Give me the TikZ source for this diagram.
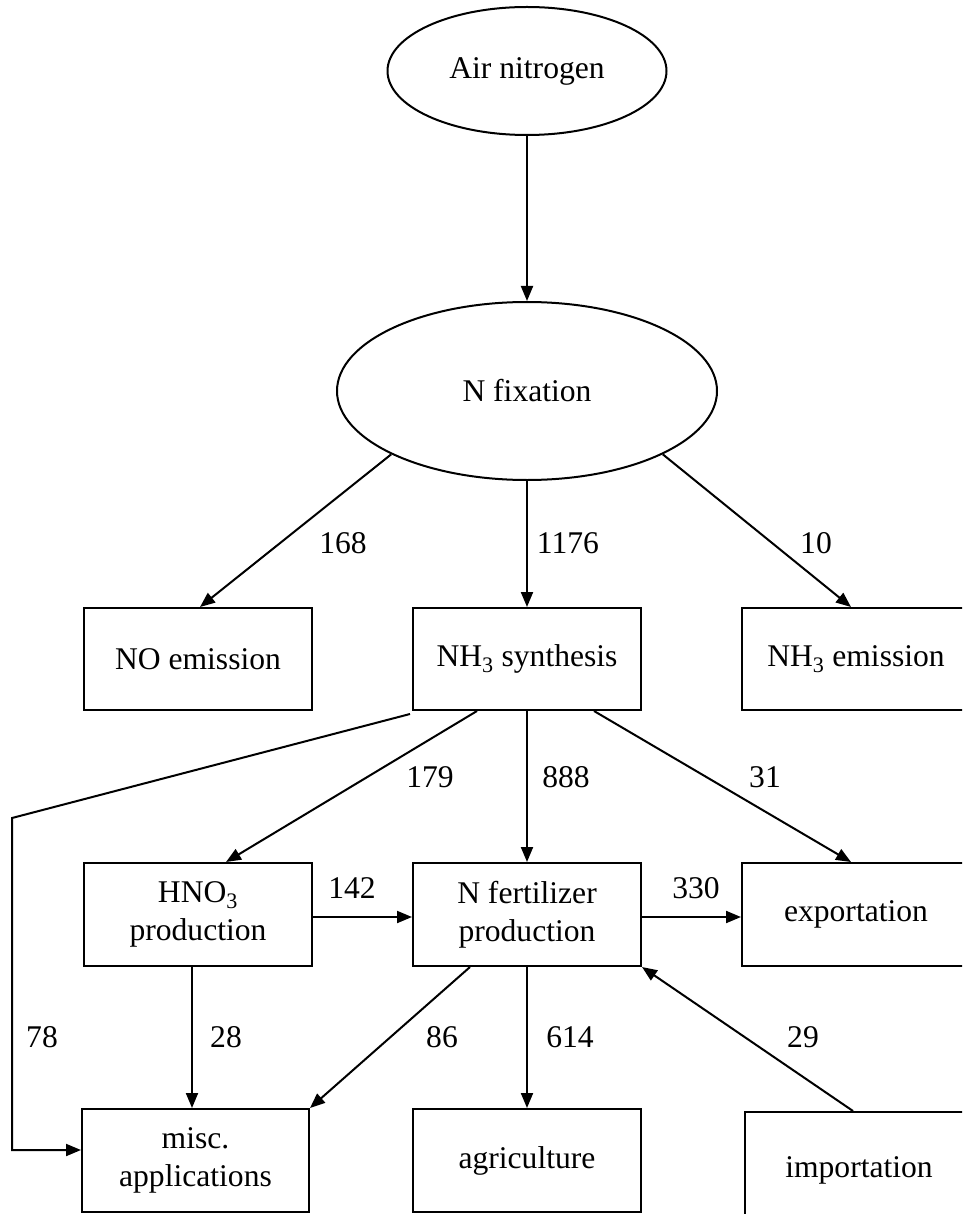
\documentclass[tikz,border=0pt]{standalone}
\usepackage{fontspec}
\setmainfont{Liberation Serif}
\usetikzlibrary{arrows.meta,shapes.geometric}
\begin{document}
\begin{tikzpicture}[x=1pt,y=-1pt,
  every node/.style={font=\fontsize{31.6}{37.5}\selectfont},
  ell/.style={draw,ellipse,line width=2pt,inner sep=0pt},
  box/.style={draw,rectangle,line width=2pt,minimum width=228pt,minimum height=102pt,inner sep=0pt,align=center},
  arr/.style={line width=2pt,-{Triangle[length=15pt,width=12pt]}},
  lbl/.style={inner sep=0pt}]
\path[use as bounding box] (0,0) rectangle (962,1214);
\clip (0,0) rectangle (962,1214);
% nodes
\node[ell,minimum width=279pt,minimum height=128pt] (air) at (527,71) {Air nitrogen};
\node[ell,minimum width=380pt,minimum height=178pt] (fix) at (527,391) {N fixation};
\node[box] (noem) at (198,659) {NO emission};
\node[box] (nh3s) at (527,659) {NH\textsubscript{3} synthesis};
\node[box] (nh3e) at (856,659) {NH\textsubscript{3} emission};
\node[box,minimum height=103pt] (hno3) at (198,914.5) {HNO\textsubscript{3}\\production};
\node[box,minimum height=103pt] (nfert) at (527,914.5) {N fertilizer\\production};
\node[box,minimum height=103pt] (expo) at (856,914.5) {exportation};
\node[box,minimum height=103pt,minimum width=227pt] (misc) at (195.5,1160.5) {misc.\\applications};
\node[box,minimum height=103pt] (agri) at (527,1160.5) {agriculture};
\node[box,minimum height=116pt] (impo) at (859,1170) {importation};
% connectors
\draw[arr] (air.south) -- (fix.north);
\draw[arr] (fix.205.5) -- ([xshift=2pt]noem.north);
\draw[arr] (fix.south) -- (nh3s.north);
\draw[arr] (fix.-25.5) -- ([xshift=-5pt]nh3e.north);
\draw[arr] ([xshift=-50pt]nh3s.south) -- ([xshift=28pt]hno3.north);
\draw[arr] (nh3s.south) -- (nfert.north);
\draw[arr] ([xshift=67pt]nh3s.south) -- ([xshift=-5pt]expo.north);
\coordinate (c1) at (12,818);
\coordinate (c2) at (12,1150);
\draw[arr] ([xshift=-2pt,yshift=-3pt]nh3s.south west) -- (c1) -- (c2) -- (c2 -| misc.west);
\draw[arr] ([yshift=-2.5pt]hno3.east) -- ([yshift=-2.5pt]nfert.west);
\draw[arr] ([yshift=-2.5pt]nfert.east) -- ([yshift=-2.5pt]expo.west);
\draw[arr] ([xshift=-6pt]hno3.south) -- ([xshift=-3.5pt]misc.north);
\draw[arr] ([xshift=-57pt]nfert.south) -- (misc.north east);
\draw[arr] (nfert.south) -- (agri.north);
\draw[arr] ([xshift=-6pt]impo.north) -- (nfert.south east);
% labels
\node[lbl] (l168) at (343,543) {168};
\node[lbl] (l1176) at (568,543) {1176};
\node[lbl] (l10) at (816,543) {10};
\node[lbl] (l179) at (430,777) {179};
\node[lbl] (l888) at (566,777) {888};
\node[lbl] (l31) at (765,777) {31};
\node[lbl] (l142) at (352,888) {142};
\node[lbl] (l330) at (696,888) {330};
\node[lbl] (l78) at (42,1037) {78};
\node[lbl] (l28) at (226,1037) {28};
\node[lbl] (l86) at (442,1037) {86};
\node[lbl] (l614) at (570,1037) {614};
\node[lbl] (l29) at (803,1037) {29};
\end{tikzpicture}
\end{document}
